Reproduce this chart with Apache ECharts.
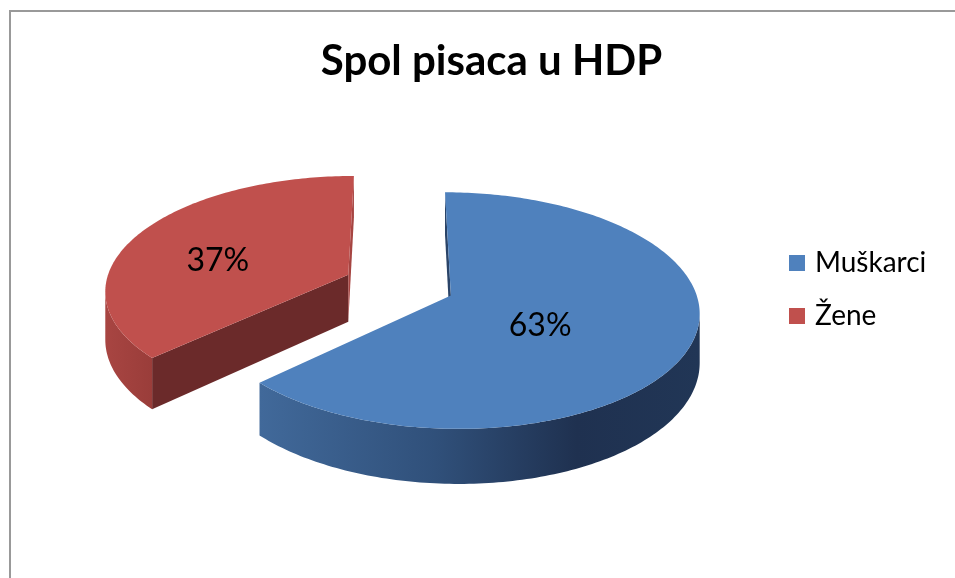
<!DOCTYPE html>
<html><head><meta charset="utf-8">
<script src="https://cdn.jsdelivr.net/npm/echarts@6/dist/echarts.min.js"></script>
<style>html,body{margin:0;padding:0;background:#fff}#c{width:955px;height:578px}</style>
</head><body><div id="c"></div>
<script>
// ---- data ----
const categories = ['Muškarci', 'Žene'];
const values = [63, 37];
const titleText = 'Spol pisaca u HDP';

// ---- styles ----
const topColors = ['#4F81BD', '#C0504D'];
const sideStops = [
  [[0, '#41699A'], [0.4, '#30507A'], [0.72, '#1F3150'], [1, '#213656']],
  [[0, '#A84542'], [1, '#9A3D3A']]
];
const radialColors = [['#2A4468', '#2A4468'], ['#6B2A2A', '#A64542']];

// ---- 3D pie projection (layout) ----
const X0 = 399, Y0 = 285, RX = 243, RY = 113.7, P = 0.126, D = 47.5, EXPLODE = 0.23;
function proj(u, v, bottom) {
  const s = 1 / (1 + P * v);
  return [X0 + RX * u * s, Y0 - RY * v * s + (bottom ? D * s : 0)];
}
function area(pts) {
  let a = 0;
  for (let i = 0; i < pts.length; i++) {
    const p = pts[i], q = pts[(i + 1) % pts.length];
    a += p[0] * q[1] - q[0] * p[1];
  }
  return a / 2;
}
const total = values.reduce((a, b) => a + b, 0);

function buildSlice(i) {
  let before = 0;
  for (let k = 0; k < i; k++) before += values[k];
  const a0 = before / total * Math.PI * 2;
  const a1 = (before + values[i]) / total * Math.PI * 2;
  const am = (a0 + a1) / 2;
  const ou = EXPLODE * Math.sin(am), ov = EXPLODE * Math.cos(am);
  const pt = (t, b) => proj(ou + Math.sin(t), ov + Math.cos(t), b);
  const n = Math.max(8, Math.ceil((a1 - a0) / (Math.PI / 180)));
  const ts = [];
  for (let j = 0; j <= n; j++) ts.push(a0 + (a1 - a0) * j / n);
  const A = proj(ou, ov, false), Ab = proj(ou, ov, true);
  const children = [];
  // radial faces
  const sFace = [A, pt(a0, false), pt(a0, true), Ab];
  if (area(sFace) < 0) children.push({type: 'polygon', shape: {points: sFace}, style: {fill: radialColors[i][0]}});
  const eFace = [A, Ab, pt(a1, true), pt(a1, false)];
  if (area(eFace) < 0) children.push({type: 'polygon', shape: {points: eFace}, style: {fill: radialColors[i][1]}});
  // outer side runs
  let run = [];
  const flush = () => {
    if (run.length > 1) {
      const topPts = run.map(t => pt(t, false));
      const botPts = run.map(t => pt(t, true)).reverse();
      children.push({type: 'polygon', shape: {points: topPts.concat(botPts)},
        style: {fill: new echarts.graphic.LinearGradient(0, 0, 1, 0,
          sideStops[i].map(s => ({offset: s[0], color: s[1]})))}});
    }
    run = [];
  };
  for (let j = 0; j < n; j++) {
    const q = [pt(ts[j], false), pt(ts[j + 1], false), pt(ts[j + 1], true), pt(ts[j], true)];
    if (area(q) < 0) {
      if (run.length === 0) run.push(ts[j]);
      run.push(ts[j + 1]);
    } else flush();
  }
  flush();
  // top face
  const topPts = [A].concat(ts.map(t => pt(t, false)));
  children.push({type: 'polygon', shape: {points: topPts}, style: {fill: topColors[i]}});
  // label
  const alpha = a1 - a0;
  const r = 1.2 * 4 * Math.sin(alpha / 2) / (3 * alpha);
  const L = proj(ou + r * Math.sin(am), ov + r * Math.cos(am), false);
  children.push({type: 'text', style: {
    text: Math.round(values[i] / total * 100) + '%',
    x: L[0] + 3, y: L[1] + 13, align: 'center', verticalAlign: 'middle',
    font: '32px Lato', fill: '#000'}});
  return {type: 'group', children};
}

const chart = echarts.init(document.getElementById('c'), null, {renderer: 'canvas'});
chart.setOption({
  animation: false,
  backgroundColor: '#fff',
  title: {
    text: titleText, left: 491.5, top: 40, textAlign: 'center', padding: 0,
    textStyle: {fontFamily: 'Lato', fontWeight: 'bold', fontSize: 42, color: '#000'}
  },
  legend: {
    data: categories, orient: 'vertical', left: 789, top: 247,
    icon: 'rect', itemWidth: 16, itemHeight: 16, itemGap: 21, padding: 0,
    selectedMode: false,
    textStyle: {fontFamily: 'Lato', fontSize: 28, color: '#000', lineHeight: 32, padding: [0, 0, 0, 5]}
  },
  graphic: [{
    type: 'rect', shape: {x: 10, y: 11, width: 1000, height: 700},
    style: {fill: 'none', stroke: '#999', lineWidth: 2}, silent: true, z: -1
  }],
  series: categories.map((name, i) => ({
    type: 'custom', name, coordinateSystem: 'none', silent: true,
    z: i === 0 ? 3 : 2,
    itemStyle: {color: topColors[i]},
    data: [values[i]],
    renderItem: () => buildSlice(i)
  }))
});
</script></body></html>
